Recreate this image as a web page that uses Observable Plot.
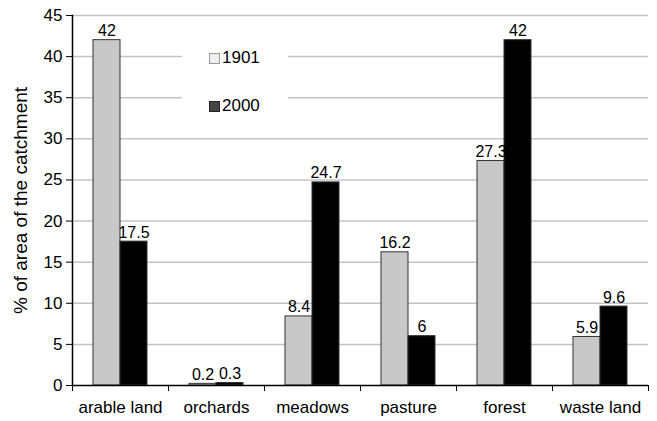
<!DOCTYPE html>
<html>
<head>
<meta charset="utf-8">
<script src="https://cdn.jsdelivr.net/npm/d3@7"></script>
<script src="https://cdn.jsdelivr.net/npm/@observablehq/plot@0.6"></script>
<style>
  html, body { margin: 0; padding: 0; background: #fff; }
  #wrap { position: relative; width: 657px; height: 421px; font-family: "Liberation Sans", Arial, sans-serif; }
  #legend { position: absolute; left: 182px; top: 44px; width: 106px; height: 76px; background: #fff; font-size: 17px; color: #000; }
  .item { position: absolute; left: 27px; display: flex; align-items: center; }
  .sw { width: 11px; height: 11px; box-sizing: border-box; margin-right: 2px; }
</style>
</head>
<body>
<div id="wrap"></div>
<script>
const categories = ["arable land", "orchards", "meadows", "pasture", "forest", "waste land"];
const years = ["1901", "2000"];
const values1901 = [42, 0.2, 8.4, 16.2, 27.3, 5.9];
const values2000 = [17.5, 0.3, 24.7, 6, 42, 9.6];
const yTicks = [0, 5, 10, 15, 20, 25, 30, 35, 40, 45];
const yLabel = "% of area of the catchment";
const barColors = ["#c8c8c8", "#000000"];
const legendColors = ["#eeeeee", "#444444"];

const data = categories.flatMap((c, i) => [
  {cat: c, year: years[0], value: values1901[i]},
  {cat: c, year: years[1], value: values2000[i]}
]);

const chart = Plot.plot({
  width: 657,
  height: 421,
  marginLeft: 72,
  marginRight: 9,
  marginTop: 15,
  marginBottom: 36,
  style: {fontFamily: "'Liberation Sans', Arial, sans-serif", fontSize: "17px", color: "#000", background: "transparent"},
  fx: {domain: categories, padding: 0, label: null, axis: null},
  x: {domain: years, paddingInner: 0, paddingOuter: 0.745, axis: null},
  y: {domain: [0, 45], ticks: yTicks, label: null},
  color: {domain: years, range: barColors},
  marks: [
    Plot.gridY(yTicks.filter(d => d > 0), {stroke: "#c4c4c4", strokeOpacity: 1, strokeWidth: 1.5}),
    Plot.barY(data, {fx: "cat", x: "year", y: "value", fill: "year", stroke: "#333", strokeWidth: 1}),
    Plot.text(data, {fx: "cat", x: "year", y: "value", text: d => String(d.value), lineAnchor: "bottom", dy: -4, fontSize: 16}),
    Plot.ruleY([0], {stroke: "#000", strokeWidth: 1.5}),
    Plot.axisY(yTicks, {tickSize: 6, tickPadding: 4, label: null, fontSize: 17}),
    Plot.axisFx({anchor: "bottom", tickSize: 0, tickPadding: 15, label: null, fontSize: 17}),
    Plot.axisFx({anchor: "bottom", tickSize: 6, text: null, dx: -48, label: null}),
    Plot.axisFx([categories[categories.length - 1]], {anchor: "bottom", tickSize: 6, text: null, dx: 48, label: null}),
    Plot.frame({anchor: "left", facet: "super", strokeWidth: 1.5}),
    Plot.text([yLabel], {frameAnchor: "left", textAnchor: "middle", rotate: -90, dx: -52, fontSize: 19, facet: "super"})
  ]
});

const wrap = document.getElementById("wrap");
wrap.appendChild(chart);

const legend = document.createElement("div");
legend.id = "legend";
years.forEach((y, i) => {
  const item = document.createElement("div");
  item.className = "item";
  item.style.top = (i === 0 ? 4 : 52) + "px";
  const sw = document.createElement("span");
  sw.className = "sw";
  sw.style.background = legendColors[i];
  sw.style.border = "1px solid " + (i === 0 ? "#999" : "#222");
  const t = document.createElement("span");
  t.textContent = y;
  item.appendChild(sw);
  item.appendChild(t);
  legend.appendChild(item);
});
wrap.appendChild(legend);
</script>
</body>
</html>
